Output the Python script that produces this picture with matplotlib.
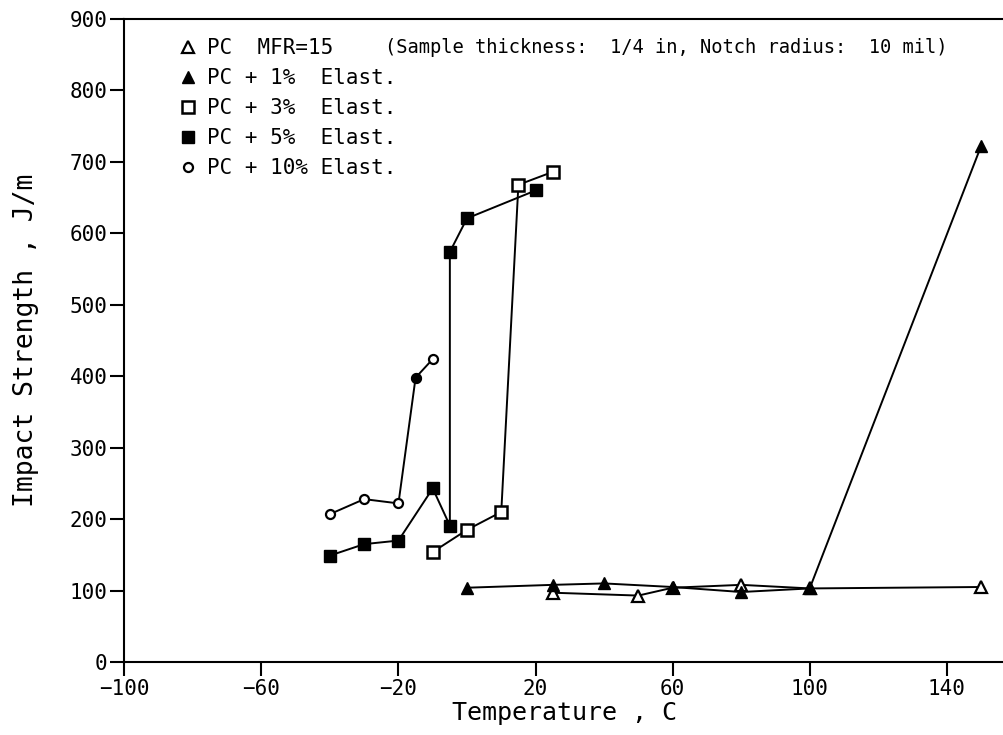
import matplotlib
matplotlib.use('Agg')
import matplotlib.pyplot as plt
from matplotlib.lines import Line2D

# Data (temperature in C, impact strength in J/m)
temp_pc = [25, 50, 60, 80, 100, 150]
imp_pc = [97, 93, 104, 108, 103, 105]

temp_1 = [0, 25, 40, 60, 80, 100, 150]
imp_1 = [104, 108, 110, 105, 98, 103, 722]

temp_3 = [-10, 0, 10, 15, 25]
imp_3 = [154, 185, 210, 668, 686]

temp_5 = [-40, -30, -20, -10, -5, -5, 0, 20]
imp_5 = [149, 165, 170, 243, 191, 574, 621, 660]

temp_10 = [-40, -30, -20, -15, -10]
imp_10 = [207, 228, 222, 398, 424]

labels = ['PC  MFR=15', 'PC + 1%  Elast.', 'PC + 3%  Elast.',
          'PC + 5%  Elast.', 'PC + 10% Elast.']
x_ticks = [-100, -60, -20, 20, 60, 100, 140]
y_ticks = [0, 100, 200, 300, 400, 500, 600, 700, 800, 900]

plt.rcParams['font.family'] = ['DejaVu Sans Mono', 'DejaVu Sans']

fig = plt.figure(figsize=(10.04, 7.35), dpi=100)
ax = fig.add_axes([0.1238, 0.0993, 0.8762, 0.8748])

lw = 1.4
styles = [
    dict(marker='^', ms=8, mfc='white', mec='black', mew=1.6),
    dict(marker='^', ms=9, mfc='black', mec='black', mew=1),
    dict(marker='s', ms=8, mfc='white', mec='black', mew=1.8),
    dict(marker='s', ms=9, mfc='black', mec='black', mew=1),
    dict(marker='o', ms=6.5, mfc='white', mec='black', mew=1.6),
]
series = [(temp_pc, imp_pc), (temp_1, imp_1), (temp_3, imp_3),
          (temp_5, imp_5), (temp_10, imp_10)]

for (x, y), st in zip(series, styles):
    ax.plot(x, y, color='black', lw=lw, **st)

# the -15 C point of the 10% blend prints as a filled circle
ax.plot(temp_10[3], imp_10[3], marker='o', ms=6.5, mfc='black', mec='black', ls='none')

ax.set_xlim(-100, 156.7)
ax.set_ylim(0, 900)
ax.set_xticks(x_ticks)
ax.set_yticks(y_ticks)
ax.tick_params(direction='out', length=10, width=1.5, labelsize=15, pad=2)
ax.spines['right'].set_visible(False)
for s in ['left', 'bottom', 'top']:
    ax.spines[s].set_linewidth(1.5)

ax.set_xlabel('Temperature , C', fontsize=18, labelpad=2)
ax.set_ylabel('Impact Strength , J/m', fontsize=19, labelpad=22)

handles = [Line2D([], [], ls='none', color='black', **st) for st in styles]
ax.legend(handles, labels, loc='upper left', bbox_to_anchor=(0.0606, 0.97),
          frameon=False, fontsize=15, handlelength=1.0, handletextpad=0.4,
          labelspacing=0.48, borderaxespad=0, borderpad=0)

ax.text(0.296, 0.955, '(Sample thickness:  1/4 in, Notch radius:  10 mil)',
        transform=ax.transAxes, fontsize=13.5, va='center', ha='left')

fig.savefig('out.png', dpi=100)
